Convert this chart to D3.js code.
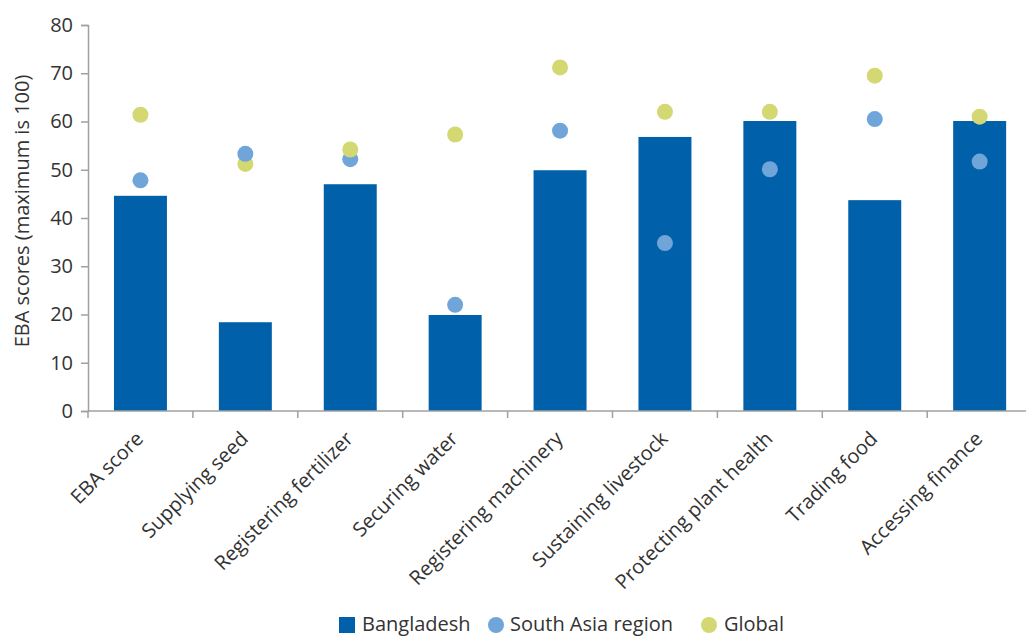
<!DOCTYPE html>
<html><head><meta charset="utf-8">
<script src="https://cdn.jsdelivr.net/npm/d3@7"></script>
<style>body{margin:0;background:#fff}svg text{font-family:"Open Sans","Noto Sans",sans-serif;fill:#333}</style>
</head><body><svg id="c" width="1026" height="636"></svg>
<script>
const categories=["EBA score","Supplying seed","Registering fertilizer","Securing water","Registering machinery","Sustaining livestock","Protecting plant health","Trading food","Accessing finance"];
const bangladesh=[44.6,18.4,47.0,19.9,49.9,56.8,60.1,43.7,60.1];
const southAsia=[47.8,53.3,52.2,22.0,58.1,34.8,50.1,60.5,51.7];
const globalVals=[61.4,51.2,54.2,57.3,71.2,62.0,62.0,69.5,61.0];
const yTicks=[0,10,20,30,40,50,60,70,80];
const seriesNames=["Bangladesh","South Asia region","Global"];
const colors={bar:"#0061AA",sa:"#6FA5D8",gl:"#D4D873"};

(function(){
const svg=d3.select("#c");
const mLeft=88, mTop=25, mBottom=411, bandW=104.9;
const x=d3.scaleBand().domain(categories).range([mLeft,mLeft+bandW*categories.length]).paddingInner(0.495).paddingOuter(0.2475);
const y=d3.scaleLinear().domain([0,80]).range([mBottom,mTop]);

// y axis
const ya=svg.append("g").attr("transform",`translate(${mLeft},0)`).call(d3.axisLeft(y).tickValues(yTicks).tickSize(7).tickPadding(8));
ya.select(".domain").attr("stroke","#a0a0a0").attr("stroke-width",1.5);
ya.selectAll(".tick line").attr("stroke","#a0a0a0").attr("stroke-width",1.5);
ya.selectAll("text").style("font-size","20px").attr("fill","#333");

// bars
svg.append("g").selectAll("rect").data(categories).join("rect")
 .attr("x",d=>x(d)).attr("width",x.bandwidth())
 .attr("y",(d,i)=>y(bangladesh[i])).attr("height",(d,i)=>y(0)-y(bangladesh[i]))
 .attr("fill",colors.bar);

// x axis
const xa=svg.append("g").attr("transform",`translate(0,${mBottom})`);
xa.append("line").attr("x1",mLeft).attr("x2",1026).attr("stroke","#a0a0a0").attr("stroke-width",1.5);
xa.selectAll("line.t").data(d3.range(categories.length+1)).join("line").attr("class","t")
 .attr("x1",i=>mLeft+i*bandW).attr("x2",i=>mLeft+i*bandW).attr("y1",0).attr("y2",7).attr("stroke","#a0a0a0").attr("stroke-width",1.5);
xa.selectAll("text").data(categories).join("text")
 .attr("transform",d=>`translate(${x(d)+x.bandwidth()/2+4},29) rotate(-45)`)
 .attr("text-anchor","end").style("font-size","20px").text(d=>d);

// dots: draw higher value on top
const pts=[];
categories.forEach((c,i)=>{
  const a={c,v:southAsia[i],col:colors.sa}, b={c,v:globalVals[i],col:colors.gl};
  if(a.v>b.v){pts.push(b,a);}else{pts.push(a,b);}
});
svg.append("g").selectAll("circle").data(pts).join("circle")
 .attr("cx",d=>x(d.c)+x.bandwidth()/2).attr("cy",d=>y(d.v)).attr("r",8).attr("fill",d=>d.col);

// y label
svg.append("text").attr("transform","translate(29,211) rotate(-90)").attr("text-anchor","middle").style("font-size","20px").text("EBA scores (maximum is 100)");

// legend
const lg=svg.append("g");
lg.append("rect").attr("x",339).attr("y",617).attr("width",16).attr("height",16).attr("fill",colors.bar);
lg.append("text").attr("x",362).attr("y",631).style("font-size","20px").text(seriesNames[0]);
lg.append("circle").attr("cx",496).attr("cy",625).attr("r",8).attr("fill",colors.sa);
lg.append("text").attr("x",510).attr("y",631).style("font-size","20px").text(seriesNames[1]);
lg.append("circle").attr("cx",709).attr("cy",625).attr("r",8).attr("fill",colors.gl);
lg.append("text").attr("x",724).attr("y",631).style("font-size","20px").text(seriesNames[2]);
})();
</script></body></html>
